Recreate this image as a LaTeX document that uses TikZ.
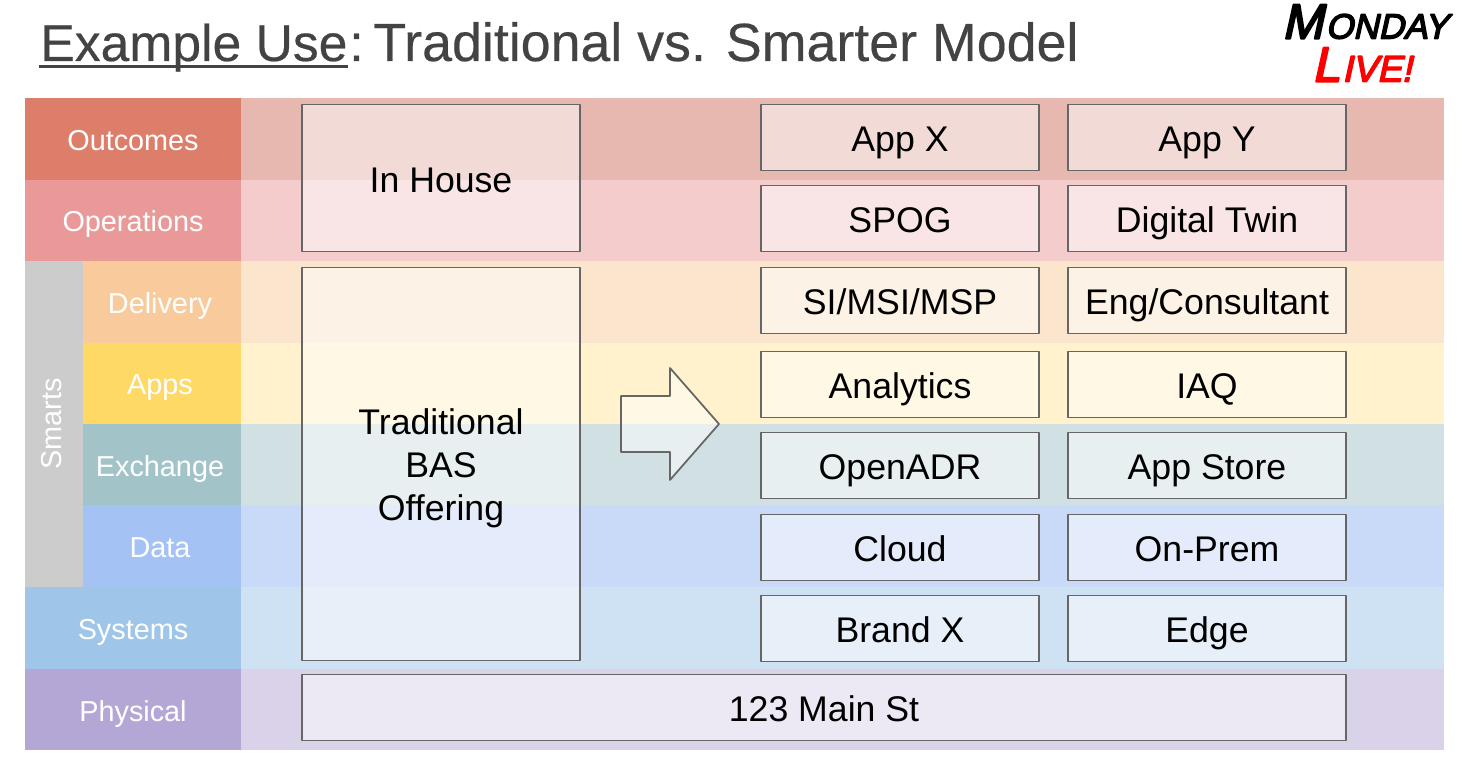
\documentclass[tikz,border=0pt]{standalone}
\usepackage{fontspec}
\setmainfont{Liberation Sans}
\newfontfamily\logofont[FakeBold=4,FakeSlant=.22]{Liberation Sans}
\newfontfamily\titlefont[FakeBold=.35]{Liberation Sans}
\definecolor{outcomes}{HTML}{DD7E6B} \definecolor{outcomesB}{HTML}{E6B8AF}
\definecolor{operations}{HTML}{EA9999} \definecolor{operationsB}{HTML}{F4CCCC}
\definecolor{delivery}{HTML}{F9CB9C} \definecolor{deliveryB}{HTML}{FCE5CD}
\definecolor{apps}{HTML}{FFD966} \definecolor{appsB}{HTML}{FFF2CC}
\definecolor{exchange}{HTML}{A2C4C9} \definecolor{exchangeB}{HTML}{D0E0E3}
\definecolor{data}{HTML}{A4C2F4} \definecolor{dataB}{HTML}{C9DAF8}
\definecolor{systems}{HTML}{9FC5E8} \definecolor{systemsB}{HTML}{CFE2F3}
\definecolor{physical}{HTML}{B4A7D6} \definecolor{physicalB}{HTML}{D9D2E9}
\definecolor{titlegray}{HTML}{434343}
\definecolor{boxline}{HTML}{666666}
\tikzset{
	rowlabel/.style={text=white,font=\fontsize{16.4}{20}\selectfont,text height=13.2pt,text depth=0pt,inner sep=0pt},
	titletext/.style={anchor=base west,text=titlegray,inner sep=0pt},
	logotext/.style={inner sep=0pt,text height=20pt,text depth=0pt},
	box/.style={draw=boxline,fill=white,fill opacity=.5,text opacity=1,line width=1pt,
		minimum width=5.56cm,minimum height=1.32cm,inner sep=0pt,align=center,
		font=\fontsize{20.3}{24.5}\selectfont,text=black},
	onebox/.style={box,text height=16pt,text depth=0pt},
}
\begin{document}
\begin{tikzpicture}[x=.02cm,y=-.02cm,line join=round]
	\useasboundingbox (0,0) rectangle (1461,757);
	\node[titletext,font=\titlefont\fontsize{29.4}{34}\selectfont] (titleuse) at (40,61) {Example Use};
	\node[titletext,font=\titlefont\fontsize{29.4}{34}\selectfont] (titlecolon) at (349,61) {:};
	\node[titletext,font=\titlefont\fontsize{30.6}{34}\selectfont] (titlerest) at (373,61) {Traditional vs. Smarter Model};
	\coordinate (ula) at (39,66.5);
	\coordinate (ulb) at (348,66.5);
	\draw[titlegray,line width=2.2pt] (ula)--(ulb);
	% logo
	\node[logotext,font=\logofont\fontsize{20}{21}\selectfont] (monday) at (1365,21) {{\fontsize{28}{28}\selectfont M}\kern1.5pt ONDAY};
	\node[logotext,text=red,font=\logofont\fontsize{21}{21}\selectfont] (live) at (1362,64) {{\fontsize{28}{28}\selectfont L}\kern1.5pt IVE!};
	% rows
	\foreach \rowname/\ya/\yb/\xa/\rowcol in {Outcomes/98/179.5/25/outcomes,Operations/179.5/261/25/operations,Delivery/261/342.5/79/delivery,Apps/342.5/424/79/apps,Exchange/424/505/79/exchange,Data/505/587/79/data,Systems/587/669/25/systems,Physical/669/750/25/physical}{
		\fill[\rowcol B] (241,\ya) rectangle (1444,\yb);
		\fill[\rowcol] (\xa,\ya) rectangle (241,\yb);
		\node[rowlabel] (\rowcol) at ({(\xa+241)/2},{(\ya+\yb)/2}) {\rowname};
	}
	\fill[black!20] (25,261) rectangle (83,587);
	\node[rowlabel,rotate=90] (smarts) at (50,424) {Smarts};
	% left boxes
	\node[onebox,minimum height=2.94cm] (inhouse) at (441,178) {In House};
	\node[box,minimum height=7.86cm] (bas) at (441,464) {};
	\node[align=center,font=\fontsize{20.3}{24.5}\selectfont,inner sep=0pt] (baslabel) at (441,468.5) {Traditional\\BAS\\Offering};
	\node[onebox,minimum width=20.88cm] (mainst) at (824,707.5) {123 Main St};
	% arrow
	\draw[draw=boxline,fill=white,fill opacity=.5,line width=1pt] (621,396)--(670,396)--(670,368)--(719,424)--(670,480)--(670,452)--(621,452)--cycle;
	% right boxes
	\foreach \boxa/\boxb/\yc/\namea/\nameb in {App X/App Y/137.5/appx/appy,SPOG/Digital Twin/218.5/spog/twin,SI\slash MSI\slash MSP/Eng\slash Consultant/300.5/si/eng,Analytics/IAQ/384.5/analytics/iaq,OpenADR/App Store/465.5/openadr/store,Cloud/On-Prem/547.5/cloud/prem,Brand X/Edge/628.5/brand/edge}{
		\node[onebox] (\namea) at (900,\yc) {\boxa};
		\node[onebox] (\nameb) at (1207,\yc) {\boxb};
	}
\end{tikzpicture}
\end{document}
